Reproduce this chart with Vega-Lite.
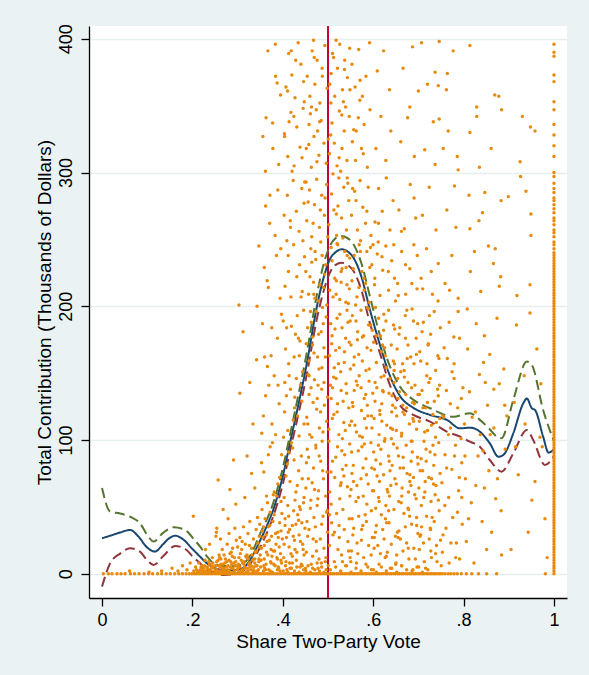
{
  "$schema": "https://vega.github.io/schema/vega-lite/v6.json",
  "width": 478,
  "height": 572,
  "autosize": {"type": "none"},
  "padding": {"left": 89, "top": 26, "right": 22, "bottom": 77},
  "background": "#EAF2F3",
  "config": {
    "font": "Liberation Sans",
    "view": {"stroke": null, "fill": "#FFFFFF"},
    "axis": {
      "domainColor": "#000000",
      "domainWidth": 1.3,
      "tickColor": "#000000",
      "tickWidth": 1.3,
      "tickSize": 8,
      "labelColor": "#000000",
      "titleColor": "#000000",
      "labelFontSize": 18,
      "titleFontSize": 19,
      "titleFontWeight": "normal",
      "labelFlush": false,
      "labelOverlap": false
    }
  },
  "datasets": {
    "obs": [
      {"x":0.003,"y":0},{"x":0.014,"y":0},{"x":0.022,"y":0},{"x":0.033,"y":0},{"x":0.042,"y":0},{"x":0.051,"y":0},{"x":0.063,"y":0},{"x":0.072,"y":0},{"x":0.082,"y":0},{"x":0.093,"y":0},{"x":0.103,"y":0},{"x":0.112,"y":0},{"x":0.123,"y":0},{"x":0.132,"y":0},{"x":0.142,"y":0},{"x":0.151,"y":0},{"x":0.161,"y":0},{"x":0.17,"y":0},{"x":0.178,"y":0},{"x":0.186,"y":0},{"x":0.193,"y":0},{"x":0.199,"y":0},
      {"x":0.204,"y":0},{"x":0.208,"y":0},{"x":0.213,"y":0},{"x":0.217,"y":0},{"x":0.222,"y":0},{"x":0.226,"y":0},{"x":0.231,"y":0},{"x":0.235,"y":0},{"x":0.24,"y":0},{"x":0.244,"y":0},{"x":0.249,"y":0},{"x":0.253,"y":0},{"x":0.258,"y":0},{"x":0.262,"y":0},{"x":0.267,"y":0},{"x":0.271,"y":0},{"x":0.276,"y":0},{"x":0.28,"y":0},{"x":0.285,"y":0},{"x":0.289,"y":0},{"x":0.294,"y":0},{"x":0.298,"y":0},{"x":0.303,"y":0},{"x":0.307,"y":0},{"x":0.312,"y":0},{"x":0.316,"y":0},{"x":0.321,"y":0},{"x":0.325,"y":0},{"x":0.33,"y":0},{"x":0.334,"y":0},{"x":0.339,"y":0},{"x":0.343,"y":0},{"x":0.348,"y":0},{"x":0.352,"y":0},{"x":0.357,"y":0},{"x":0.361,"y":0},{"x":0.366,"y":0},{"x":0.37,"y":0},{"x":0.375,"y":0},{"x":0.379,"y":0},{"x":0.384,"y":0},{"x":0.388,"y":0},{"x":0.393,"y":0},{"x":0.397,"y":0},{"x":0.402,"y":0},{"x":0.406,"y":0},{"x":0.411,"y":0},{"x":0.415,"y":0},{"x":0.42,"y":0},{"x":0.424,"y":0},{"x":0.429,"y":0},{"x":0.433,"y":0},{"x":0.438,"y":0},{"x":0.442,"y":0},{"x":0.447,"y":0},{"x":0.451,"y":0},{"x":0.456,"y":0},{"x":0.46,"y":0},{"x":0.465,"y":0},{"x":0.469,"y":0},{"x":0.474,"y":0},{"x":0.478,"y":0},{"x":0.483,"y":0},{"x":0.487,"y":0},{"x":0.492,"y":0},{"x":0.496,"y":0},{"x":0.501,"y":0},{"x":0.505,"y":0},{"x":0.51,"y":0},{"x":0.514,"y":0},{"x":0.519,"y":0},{"x":0.523,"y":0},{"x":0.528,"y":0},{"x":0.532,"y":0},{"x":0.537,"y":0},{"x":0.541,"y":0},{"x":0.546,"y":0},{"x":0.55,"y":0},{"x":0.555,"y":0},{"x":0.559,"y":0},{"x":0.564,"y":0},{"x":0.568,"y":0},{"x":0.573,"y":0},{"x":0.577,"y":0},{"x":0.582,"y":0},{"x":0.586,"y":0},{"x":0.591,"y":0},{"x":0.595,"y":0},{"x":0.6,"y":0},{"x":0.604,"y":0},{"x":0.609,"y":0},{"x":0.613,"y":0},{"x":0.618,"y":0},{"x":0.622,"y":0},{"x":0.627,"y":0},{"x":0.631,"y":0},{"x":0.636,"y":0},{"x":0.64,"y":0},{"x":0.645,"y":0},{"x":0.649,"y":0},{"x":0.654,"y":0},{"x":0.658,"y":0},{"x":0.663,"y":0},{"x":0.667,"y":0},{"x":0.672,"y":0},{"x":0.676,"y":0},{"x":0.681,"y":0},{"x":0.685,"y":0},{"x":0.69,"y":0},{"x":0.694,"y":0},{"x":0.699,"y":0},{"x":0.703,"y":0},{"x":0.708,"y":0},{"x":0.712,"y":0},{"x":0.717,"y":0},{"x":0.721,"y":0},{"x":0.726,"y":0},{"x":0.73,"y":0},{"x":0.735,"y":0},{"x":0.739,"y":0},{"x":0.744,"y":0},{"x":0.748,"y":0},{"x":0.753,"y":0},{"x":0.759,"y":0},{"x":0.766,"y":0},{"x":0.772,"y":0},{"x":0.779,"y":0},{"x":0.786,"y":0},{"x":0.795,"y":0},{"x":0.806,"y":0},{"x":0.818,"y":0},{"x":0.833,"y":0},{"x":0.851,"y":0},{"x":0.873,"y":0},{"x":0.981,"y":0},
      {"x":0.155,"y":4},{"x":0.168,"y":2},{"x":0.178,"y":6},{"x":0.132,"y":2},{"x":0.188,"y":3},{"x":0.195,"y":8},{"x":0.061,"y":2},{"x":0.104,"y":1},
      {"x":0.202,"y":43},{"x":0.252,"y":28},{"x":0.253,"y":31},{"x":0.254,"y":34},{"x":0.257,"y":70},{"x":0.283,"y":63},{"x":0.279,"y":41},{"x":0.268,"y":48},{"x":0.291,"y":85},{"x":0.296,"y":52},{"x":0.238,"y":22},{"x":0.229,"y":18},{"x":0.262,"y":26},{"x":0.294,"y":34},{"x":0.281,"y":30},
      {"x":0.203,"y":2},{"x":0.207,"y":5},{"x":0.211,"y":1},{"x":0.214,"y":8},{"x":0.218,"y":3},{"x":0.221,"y":6},{"x":0.225,"y":2},{"x":0.228,"y":10},{"x":0.232,"y":4},{"x":0.235,"y":1},{"x":0.238,"y":7},{"x":0.241,"y":3},{"x":0.244,"y":12},{"x":0.246,"y":5},{"x":0.249,"y":2},{"x":0.209,"y":3},{"x":0.223,"y":4},{"x":0.231,"y":1},{"x":0.237,"y":3},{"x":0.243,"y":6},
      {"x":0.251,"y":3},{"x":0.254,"y":9},{"x":0.256,"y":1},{"x":0.259,"y":14},{"x":0.261,"y":5},{"x":0.264,"y":2},{"x":0.266,"y":18},{"x":0.268,"y":7},{"x":0.271,"y":3},{"x":0.273,"y":11},{"x":0.275,"y":1},{"x":0.277,"y":22},{"x":0.279,"y":6},{"x":0.281,"y":2},{"x":0.283,"y":15},{"x":0.285,"y":9},{"x":0.287,"y":4},{"x":0.289,"y":19},{"x":0.291,"y":1},{"x":0.293,"y":12},{"x":0.295,"y":6},{"x":0.297,"y":25},{"x":0.299,"y":3},{"x":0.258,"y":6},{"x":0.269,"y":4},{"x":0.276,"y":9},{"x":0.284,"y":5},{"x":0.292,"y":8},{"x":0.263,"y":11},{"x":0.288,"y":13},
      {"x":0.301,"y":4},{"x":0.303,"y":12},{"x":0.305,"y":27},{"x":0.307,"y":2},{"x":0.309,"y":18},{"x":0.311,"y":8},{"x":0.313,"y":35},{"x":0.315,"y":5},{"x":0.317,"y":22},{"x":0.319,"y":1},{"x":0.321,"y":14},{"x":0.323,"y":30},{"x":0.325,"y":7},{"x":0.327,"y":39},{"x":0.329,"y":3},{"x":0.331,"y":19},{"x":0.333,"y":10},{"x":0.335,"y":26},{"x":0.337,"y":2},{"x":0.339,"y":16},{"x":0.341,"y":33},{"x":0.343,"y":6},{"x":0.345,"y":23},{"x":0.347,"y":11},{"x":0.349,"y":37},{"x":0.302,"y":7},{"x":0.306,"y":15},{"x":0.31,"y":3},{"x":0.314,"y":9},{"x":0.318,"y":13},{"x":0.322,"y":4},{"x":0.326,"y":21},{"x":0.33,"y":6},{"x":0.334,"y":1},{"x":0.338,"y":8},{"x":0.342,"y":17},{"x":0.346,"y":3},{"x":0.348,"y":20},{"x":0.324,"y":11},{"x":0.336,"y":5},
      {"x":0.351,"y":5},{"x":0.353,"y":19},{"x":0.355,"y":32},{"x":0.357,"y":2},{"x":0.359,"y":11},{"x":0.361,"y":41},{"x":0.363,"y":7},{"x":0.365,"y":24},{"x":0.367,"y":14},{"x":0.369,"y":3},{"x":0.371,"y":36},{"x":0.373,"y":9},{"x":0.375,"y":28},{"x":0.377,"y":1},{"x":0.379,"y":17},{"x":0.381,"y":44},{"x":0.383,"y":6},{"x":0.385,"y":22},{"x":0.387,"y":12},{"x":0.389,"y":31},{"x":0.391,"y":4},{"x":0.393,"y":38},{"x":0.395,"y":15},{"x":0.397,"y":8},{"x":0.399,"y":26},{"x":0.352,"y":10},{"x":0.356,"y":27},{"x":0.36,"y":4},{"x":0.364,"y":16},{"x":0.368,"y":35},{"x":0.372,"y":2},{"x":0.376,"y":13},{"x":0.38,"y":7},{"x":0.384,"y":30},{"x":0.388,"y":3},{"x":0.392,"y":20},{"x":0.396,"y":10},{"x":0.358,"y":6},{"x":0.374,"y":18},{"x":0.39,"y":5},
      {"x":0.401,"y":2},{"x":0.406,"y":6},{"x":0.411,"y":1},{"x":0.416,"y":4},{"x":0.421,"y":8},{"x":0.426,"y":2},{"x":0.431,"y":5},{"x":0.436,"y":1},{"x":0.441,"y":7},{"x":0.446,"y":3},{"x":0.451,"y":2},{"x":0.456,"y":6},{"x":0.461,"y":1},{"x":0.466,"y":4},{"x":0.471,"y":3},{"x":0.476,"y":8},{"x":0.481,"y":2},{"x":0.486,"y":5},{"x":0.491,"y":1},{"x":0.496,"y":3},
      {"x":0.505,"y":3},{"x":0.517,"y":5},{"x":0.528,"y":2},{"x":0.539,"y":6},{"x":0.551,"y":1},{"x":0.562,"y":4},{"x":0.573,"y":2},{"x":0.584,"y":7},{"x":0.596,"y":3},{"x":0.607,"y":1},{"x":0.618,"y":5},{"x":0.629,"y":2},{"x":0.641,"y":4},{"x":0.652,"y":1},{"x":0.663,"y":6},{"x":0.674,"y":3},{"x":0.686,"y":2},{"x":0.697,"y":5},{"x":0.709,"y":1},{"x":0.721,"y":3},
      {"x":0.221,"y":1},{"x":0.224,"y":4},{"x":0.227,"y":6},{"x":0.23,"y":2},{"x":0.233,"y":5},{"x":0.236,"y":9},{"x":0.239,"y":2},{"x":0.242,"y":4},{"x":0.245,"y":8},{"x":0.248,"y":1},{"x":0.251,"y":6},{"x":0.254,"y":3},{"x":0.257,"y":10},{"x":0.26,"y":2},{"x":0.263,"y":7},{"x":0.266,"y":4},{"x":0.269,"y":1},{"x":0.272,"y":8},{"x":0.275,"y":5},{"x":0.278,"y":3},{"x":0.281,"y":10},{"x":0.284,"y":1},{"x":0.287,"y":7},{"x":0.29,"y":4},{"x":0.293,"y":2},{"x":0.296,"y":9},{"x":0.299,"y":6},{"x":0.302,"y":1},{"x":0.305,"y":5},{"x":0.308,"y":10},{"x":0.311,"y":2},{"x":0.314,"y":7},{"x":0.317,"y":4},{"x":0.32,"y":12},{"x":0.323,"y":2},{"x":0.326,"y":8},{"x":0.329,"y":5},{"x":0.332,"y":14},{"x":0.335,"y":3},{"x":0.338,"y":11},{"x":0.341,"y":6},{"x":0.344,"y":2},{"x":0.347,"y":9},{"x":0.215,"y":2},{"x":0.219,"y":5},{"x":0.26,"y":12},{"x":0.27,"y":14},{"x":0.286,"y":16},{"x":0.3,"y":20},{"x":0.31,"y":24},
      {"x":0.344,"y":42},{"x":0.35,"y":14},{"x":0.354,"y":48},{"x":0.359,"y":21},{"x":0.362,"y":3},{"x":0.366,"y":53},{"x":0.37,"y":25},{"x":0.374,"y":8},{"x":0.378,"y":39},{"x":0.382,"y":17},{"x":0.386,"y":58},{"x":0.39,"y":27},{"x":0.394,"y":2},{"x":0.398,"y":45},{"x":0.403,"y":22},{"x":0.407,"y":9},{"x":0.411,"y":51},{"x":0.415,"y":33},{"x":0.419,"y":4},{"x":0.423,"y":28},{"x":0.427,"y":55},{"x":0.431,"y":16},{"x":0.435,"y":40},{"x":0.439,"y":24},{"x":0.443,"y":6},{"x":0.447,"y":57},{"x":0.449,"y":34},{"x":0.357,"y":35},{"x":0.372,"y":46},{"x":0.388,"y":11},{"x":0.405,"y":36},{"x":0.421,"y":13},{"x":0.437,"y":50},{"x":0.348,"y":28},{"x":0.363,"y":29},{"x":0.379,"y":59},{"x":0.396,"y":32},{"x":0.413,"y":43},{"x":0.429,"y":37},{"x":0.445,"y":18},
      {"x":0.303,"y":201},{"x":0.312,"y":181},{"x":0.305,"y":135},{"x":0.342,"y":160},{"x":0.343,"y":200},{"x":0.321,"y":88},{"x":0.334,"y":112},{"x":0.338,"y":64},{"x":0.316,"y":57},{"x":0.327,"y":143},{"x":0.347,"y":245},{"x":0.331,"y":75},
      {"x":0.364,"y":58},{"x":0.353,"y":83},{"x":0.389,"y":67},{"x":0.372,"y":95},{"x":0.396,"y":54},{"x":0.358,"y":76},{"x":0.381,"y":61},{"x":0.368,"y":89},{"x":0.393,"y":72},{"x":0.377,"y":98},
      {"x":0.357,"y":118},{"x":0.384,"y":104},{"x":0.369,"y":141},{"x":0.392,"y":127},{"x":0.362,"y":133},{"x":0.376,"y":112},
      {"x":0.374,"y":163},{"x":0.355,"y":187},{"x":0.388,"y":176},{"x":0.366,"y":155},{"x":0.397,"y":194},{"x":0.381,"y":148},
      {"x":0.368,"y":214},{"x":0.386,"y":238},{"x":0.359,"y":229},{"x":0.394,"y":206},
      {"x":0.371,"y":262},{"x":0.389,"y":287},{"x":0.362,"y":275},{"x":0.383,"y":253},
      {"x":0.378,"y":318},{"x":0.363,"y":341},{"x":0.391,"y":306},{"x":0.356,"y":327},
      {"x":0.384,"y":372},{"x":0.367,"y":391},{"x":0.395,"y":358},
      {"x":0.3535,"y":105},{"x":0.3595,"y":162},{"x":0.3655,"y":219},{"x":0.3715,"y":283},{"x":0.3775,"y":337},{"x":0.3835,"y":396},{"x":0.3895,"y":141},{"x":0.3955,"y":243},{"x":0.3615,"y":301},{"x":0.3755,"y":184},{"x":0.3875,"y":367},{"x":0.3975,"y":89},
      {"x":0.402,"y":12},{"x":0.408,"y":27},{"x":0.415,"y":8},{"x":0.421,"y":36},{"x":0.427,"y":18},{"x":0.433,"y":44},{"x":0.438,"y":5},{"x":0.444,"y":22},{"x":0.405,"y":41},{"x":0.412,"y":31},{"x":0.418,"y":15},{"x":0.424,"y":47},{"x":0.43,"y":10},{"x":0.436,"y":29},{"x":0.442,"y":38},{"x":0.447,"y":14},{"x":0.409,"y":3},{"x":0.426,"y":25},{"x":0.439,"y":48},{"x":0.414,"y":20},
      {"x":0.403,"y":57},{"x":0.41,"y":82},{"x":0.416,"y":69},{"x":0.422,"y":94},{"x":0.429,"y":61},{"x":0.435,"y":77},{"x":0.441,"y":88},{"x":0.446,"y":53},{"x":0.407,"y":73},{"x":0.419,"y":98},{"x":0.425,"y":85},{"x":0.432,"y":66},{"x":0.443,"y":71},{"x":0.413,"y":91},
      {"x":0.404,"y":121},{"x":0.411,"y":107},{"x":0.417,"y":138},{"x":0.423,"y":115},{"x":0.43,"y":146},{"x":0.436,"y":103},{"x":0.442,"y":129},{"x":0.447,"y":112},{"x":0.408,"y":133},{"x":0.426,"y":124},{"x":0.439,"y":141},{"x":0.414,"y":148},
      {"x":0.406,"y":168},{"x":0.413,"y":157},{"x":0.419,"y":185},{"x":0.425,"y":162},{"x":0.432,"y":193},{"x":0.438,"y":174},{"x":0.444,"y":151},{"x":0.401,"y":189},{"x":0.428,"y":179},{"x":0.446,"y":197},
      {"x":0.405,"y":215},{"x":0.412,"y":238},{"x":0.418,"y":207},{"x":0.424,"y":246},{"x":0.431,"y":222},{"x":0.437,"y":231},{"x":0.443,"y":211},{"x":0.409,"y":249},{"x":0.448,"y":237},
      {"x":0.403,"y":268},{"x":0.41,"y":283},{"x":0.417,"y":259},{"x":0.423,"y":294},{"x":0.43,"y":271},{"x":0.436,"y":256},{"x":0.442,"y":288},{"x":0.447,"y":277},
      {"x":0.404,"y":327},{"x":0.411,"y":312},{"x":0.418,"y":345},{"x":0.425,"y":305},{"x":0.431,"y":334},{"x":0.438,"y":319},{"x":0.445,"y":348},{"x":0.414,"y":338},
      {"x":0.407,"y":364},{"x":0.413,"y":389},{"x":0.42,"y":373},{"x":0.427,"y":356},{"x":0.434,"y":397},{"x":0.44,"y":381},{"x":0.446,"y":368},
      {"x":0.4015,"y":102},{"x":0.4045,"y":143},{"x":0.4085,"y":184},{"x":0.4125,"y":226},{"x":0.4165,"y":264},{"x":0.4205,"y":301},{"x":0.4245,"y":342},{"x":0.4285,"y":384},{"x":0.4325,"y":118},{"x":0.4365,"y":163},{"x":0.4405,"y":207},{"x":0.4445,"y":249},{"x":0.4485,"y":293},{"x":0.4035,"y":329},{"x":0.4105,"y":361},{"x":0.4185,"y":391},{"x":0.4265,"y":132},{"x":0.4345,"y":176},{"x":0.4425,"y":311},{"x":0.4475,"y":353},
      {"x":0.452,"y":16},{"x":0.458,"y":33},{"x":0.463,"y":7},{"x":0.469,"y":42},{"x":0.474,"y":24},{"x":0.48,"y":11},{"x":0.486,"y":37},{"x":0.491,"y":19},{"x":0.497,"y":46},{"x":0.455,"y":28},{"x":0.461,"y":49},{"x":0.466,"y":13},{"x":0.472,"y":35},{"x":0.478,"y":4},{"x":0.483,"y":26},{"x":0.489,"y":43},{"x":0.494,"y":9},{"x":0.499,"y":31},
      {"x":0.451,"y":64},{"x":0.457,"y":87},{"x":0.462,"y":55},{"x":0.468,"y":79},{"x":0.473,"y":96},{"x":0.479,"y":62},{"x":0.484,"y":84},{"x":0.49,"y":71},{"x":0.495,"y":58},{"x":0.454,"y":93},{"x":0.465,"y":68},{"x":0.476,"y":51},{"x":0.487,"y":99},{"x":0.498,"y":76},
      {"x":0.453,"y":117},{"x":0.458,"y":134},{"x":0.464,"y":102},{"x":0.47,"y":145},{"x":0.475,"y":123},{"x":0.481,"y":109},{"x":0.486,"y":138},{"x":0.492,"y":126},{"x":0.497,"y":114},{"x":0.456,"y":149},{"x":0.467,"y":128},{"x":0.478,"y":141},{"x":0.489,"y":106},{"x":0.499,"y":132},
      {"x":0.452,"y":172},{"x":0.458,"y":159},{"x":0.463,"y":188},{"x":0.469,"y":165},{"x":0.474,"y":196},{"x":0.48,"y":153},{"x":0.485,"y":181},{"x":0.491,"y":169},{"x":0.496,"y":192},{"x":0.455,"y":184},{"x":0.466,"y":177},{"x":0.477,"y":162},{"x":0.488,"y":199},
      {"x":0.451,"y":226},{"x":0.457,"y":209},{"x":0.462,"y":243},{"x":0.468,"y":218},{"x":0.473,"y":235},{"x":0.479,"y":204},{"x":0.484,"y":248},{"x":0.49,"y":214},{"x":0.495,"y":231},{"x":0.46,"y":222},{"x":0.471,"y":206},{"x":0.487,"y":238},
      {"x":0.453,"y":264},{"x":0.459,"y":287},{"x":0.464,"y":252},{"x":0.47,"y":276},{"x":0.475,"y":295},{"x":0.481,"y":259},{"x":0.486,"y":283},{"x":0.492,"y":268},{"x":0.497,"y":291},{"x":0.456,"y":278},{"x":0.467,"y":262},{"x":0.483,"y":272},
      {"x":0.452,"y":318},{"x":0.458,"y":336},{"x":0.463,"y":304},{"x":0.469,"y":327},{"x":0.474,"y":347},{"x":0.48,"y":313},{"x":0.485,"y":339},{"x":0.491,"y":322},{"x":0.496,"y":307},{"x":0.461,"y":344},{"x":0.477,"y":331},
      {"x":0.454,"y":372},{"x":0.46,"y":357},{"x":0.465,"y":391},{"x":0.471,"y":366},{"x":0.476,"y":384},{"x":0.482,"y":352},{"x":0.487,"y":378},{"x":0.493,"y":395},{"x":0.498,"y":363},{"x":0.468,"y":399},
      {"x":0.4505,"y":4},{"x":0.4535,"y":39},{"x":0.4565,"y":71},{"x":0.4595,"y":104},{"x":0.4625,"y":139},{"x":0.4655,"y":171},{"x":0.4685,"y":209},{"x":0.4715,"y":241},{"x":0.4745,"y":17},{"x":0.4775,"y":56},{"x":0.4805,"y":88},{"x":0.4835,"y":121},{"x":0.4865,"y":154},{"x":0.4895,"y":187},{"x":0.4925,"y":224},{"x":0.4955,"y":12},{"x":0.4985,"y":47},{"x":0.4522,"y":83},{"x":0.4552,"y":112},{"x":0.4582,"y":148},{"x":0.4612,"y":196},{"x":0.4642,"y":233},{"x":0.4672,"y":26},{"x":0.4702,"y":63},{"x":0.4732,"y":94},{"x":0.4762,"y":131},{"x":0.4792,"y":179},{"x":0.4822,"y":216},{"x":0.4852,"y":8},{"x":0.4882,"y":77},{"x":0.4912,"y":143},{"x":0.4942,"y":162},{"x":0.4972,"y":201},{"x":0.4995,"y":252},
      {"x":0.4515,"y":293},{"x":0.4575,"y":321},{"x":0.4635,"y":349},{"x":0.4695,"y":386},{"x":0.4755,"y":308},{"x":0.4815,"y":338},{"x":0.4875,"y":372},{"x":0.4935,"y":281},{"x":0.5005,"y":325},{"x":0.5065,"y":352},{"x":0.5125,"y":386},{"x":0.5185,"y":269},{"x":0.5245,"y":311},{"x":0.5305,"y":343},{"x":0.5365,"y":377},{"x":0.5425,"y":296},{"x":0.5485,"y":362},{"x":0.5545,"y":288},{"x":0.5625,"y":331},{"x":0.5705,"y":354},
      {"x":0.503,"y":21},{"x":0.508,"y":38},{"x":0.514,"y":9},{"x":0.519,"y":45},{"x":0.525,"y":27},{"x":0.53,"y":14},{"x":0.536,"y":33},{"x":0.541,"y":6},{"x":0.547,"y":41},{"x":0.511,"y":29},{"x":0.522,"y":18},{"x":0.533,"y":48},{"x":0.544,"y":24},{"x":0.549,"y":12},
      {"x":0.504,"y":61},{"x":0.51,"y":84},{"x":0.515,"y":72},{"x":0.521,"y":95},{"x":0.526,"y":56},{"x":0.532,"y":78},{"x":0.537,"y":89},{"x":0.543,"y":65},{"x":0.548,"y":97},{"x":0.507,"y":52},{"x":0.529,"y":68},{"x":0.54,"y":81},
      {"x":0.502,"y":108},{"x":0.507,"y":131},{"x":0.513,"y":119},{"x":0.518,"y":146},{"x":0.524,"y":104},{"x":0.529,"y":137},{"x":0.535,"y":113},{"x":0.54,"y":142},{"x":0.546,"y":124},{"x":0.51,"y":139},{"x":0.521,"y":127},{"x":0.532,"y":101},{"x":0.548,"y":111},
      {"x":0.503,"y":163},{"x":0.509,"y":178},{"x":0.514,"y":154},{"x":0.52,"y":191},{"x":0.525,"y":169},{"x":0.531,"y":184},{"x":0.536,"y":158},{"x":0.542,"y":197},{"x":0.547,"y":173},{"x":0.506,"y":187},{"x":0.517,"y":167},{"x":0.528,"y":151},{"x":0.539,"y":176},{"x":0.549,"y":189},
      {"x":0.504,"y":212},{"x":0.509,"y":234},{"x":0.515,"y":221},{"x":0.52,"y":247},{"x":0.526,"y":205},{"x":0.531,"y":228},{"x":0.537,"y":241},{"x":0.542,"y":216},{"x":0.548,"y":236},{"x":0.507,"y":244},{"x":0.518,"y":209},{"x":0.529,"y":218},{"x":0.54,"y":229},{"x":0.545,"y":202},
      {"x":0.502,"y":261},{"x":0.508,"y":284},{"x":0.513,"y":272},{"x":0.519,"y":253},{"x":0.524,"y":296},{"x":0.53,"y":266},{"x":0.535,"y":289},{"x":0.541,"y":257},{"x":0.546,"y":279},{"x":0.511,"y":299},{"x":0.522,"y":275},{"x":0.533,"y":251},{"x":0.544,"y":292},
      {"x":0.503,"y":314},{"x":0.509,"y":337},{"x":0.514,"y":322},{"x":0.52,"y":305},{"x":0.525,"y":346},{"x":0.531,"y":318},{"x":0.536,"y":331},{"x":0.542,"y":309},{"x":0.547,"y":342},{"x":0.506,"y":328},{"x":0.528,"y":301},{"x":0.539,"y":349},
      {"x":0.504,"y":366},{"x":0.51,"y":389},{"x":0.515,"y":357},{"x":0.521,"y":378},{"x":0.526,"y":396},{"x":0.532,"y":362},{"x":0.537,"y":384},{"x":0.543,"y":371},{"x":0.548,"y":393},{"x":0.507,"y":374},{"x":0.518,"y":399},{"x":0.534,"y":353},
      {"x":0.5005,"y":6},{"x":0.5035,"y":44},{"x":0.5065,"y":76},{"x":0.5095,"y":116},{"x":0.5125,"y":147},{"x":0.5155,"y":183},{"x":0.5185,"y":219},{"x":0.5215,"y":246},{"x":0.5245,"y":36},{"x":0.5275,"y":66},{"x":0.5305,"y":92},{"x":0.5335,"y":129},{"x":0.5365,"y":166},{"x":0.5395,"y":203},{"x":0.5425,"y":238},{"x":0.5455,"y":17},{"x":0.5485,"y":58},{"x":0.5022,"y":99},{"x":0.5052,"y":141},{"x":0.5082,"y":172},{"x":0.5112,"y":207},{"x":0.5142,"y":31},{"x":0.5172,"y":87},{"x":0.5202,"y":121},{"x":0.5232,"y":157},{"x":0.5262,"y":194},{"x":0.5292,"y":226},{"x":0.5322,"y":9},{"x":0.5352,"y":73},{"x":0.5382,"y":107},{"x":0.5412,"y":135},{"x":0.5442,"y":188},{"x":0.5472,"y":213},{"x":0.5495,"y":153},
      {"x":0.552,"y":17},{"x":0.557,"y":34},{"x":0.563,"y":8},{"x":0.568,"y":43},{"x":0.574,"y":25},{"x":0.579,"y":12},{"x":0.585,"y":39},{"x":0.59,"y":21},{"x":0.596,"y":47},{"x":0.555,"y":29},{"x":0.566,"y":15},{"x":0.577,"y":36},{"x":0.588,"y":5},{"x":0.598,"y":27},
      {"x":0.551,"y":63},{"x":0.556,"y":81},{"x":0.562,"y":54},{"x":0.567,"y":92},{"x":0.573,"y":71},{"x":0.578,"y":58},{"x":0.584,"y":86},{"x":0.589,"y":67},{"x":0.595,"y":98},{"x":0.553,"y":75},{"x":0.564,"y":66},{"x":0.575,"y":95},{"x":0.586,"y":52},{"x":0.597,"y":79},
      {"x":0.552,"y":114},{"x":0.558,"y":137},{"x":0.563,"y":106},{"x":0.569,"y":148},{"x":0.574,"y":122},{"x":0.58,"y":131},{"x":0.585,"y":109},{"x":0.591,"y":144},{"x":0.596,"y":118},{"x":0.554,"y":128},{"x":0.565,"y":141},{"x":0.576,"y":102},{"x":0.581,"y":116},{"x":0.587,"y":126},{"x":0.599,"y":135},
      {"x":0.551,"y":171},{"x":0.557,"y":156},{"x":0.562,"y":189},{"x":0.568,"y":164},{"x":0.573,"y":197},{"x":0.579,"y":178},{"x":0.584,"y":152},{"x":0.59,"y":186},{"x":0.595,"y":167},{"x":0.554,"y":193},{"x":0.565,"y":175},{"x":0.576,"y":159},{"x":0.587,"y":199},{"x":0.598,"y":182},
      {"x":0.553,"y":219},{"x":0.558,"y":238},{"x":0.564,"y":207},{"x":0.569,"y":246},{"x":0.575,"y":226},{"x":0.58,"y":212},{"x":0.586,"y":241},{"x":0.591,"y":203},{"x":0.597,"y":231},{"x":0.556,"y":228},{"x":0.572,"y":249},{"x":0.583,"y":217},{"x":0.594,"y":244},
      {"x":0.552,"y":268},{"x":0.559,"y":286},{"x":0.565,"y":257},{"x":0.571,"y":294},{"x":0.577,"y":274},{"x":0.583,"y":262},{"x":0.589,"y":289},{"x":0.595,"y":253},{"x":0.562,"y":279},{"x":0.586,"y":271},
      {"x":0.554,"y":323},{"x":0.561,"y":309},{"x":0.567,"y":341},{"x":0.574,"y":318},{"x":0.58,"y":336},{"x":0.587,"y":304},{"x":0.593,"y":347},{"x":0.557,"y":332},{"x":0.578,"y":314},
      {"x":0.553,"y":381},{"x":0.56,"y":364},{"x":0.568,"y":392},{"x":0.576,"y":357},{"x":0.584,"y":372},{"x":0.592,"y":397},{"x":0.571,"y":369},
      {"x":0.5505,"y":9},{"x":0.5535,"y":41},{"x":0.5565,"y":69},{"x":0.5595,"y":111},{"x":0.5625,"y":144},{"x":0.5655,"y":181},{"x":0.5685,"y":214},{"x":0.5715,"y":241},{"x":0.5745,"y":33},{"x":0.5775,"y":79},{"x":0.5805,"y":97},{"x":0.5835,"y":134},{"x":0.5865,"y":169},{"x":0.5895,"y":198},{"x":0.5925,"y":229},{"x":0.5955,"y":14},{"x":0.5985,"y":62},{"x":0.5522,"y":91},{"x":0.5552,"y":125},{"x":0.5582,"y":162},{"x":0.5612,"y":201},{"x":0.5642,"y":23},{"x":0.5672,"y":57},{"x":0.5702,"y":103},{"x":0.5732,"y":139},{"x":0.5762,"y":177},{"x":0.5792,"y":221},{"x":0.5822,"y":44},{"x":0.5852,"y":74},{"x":0.5882,"y":118},{"x":0.5912,"y":153},{"x":0.5942,"y":186},{"x":0.5972,"y":109},{"x":0.5995,"y":246},
      {"x":0.602,"y":19},{"x":0.607,"y":36},{"x":0.613,"y":7},{"x":0.618,"y":44},{"x":0.624,"y":26},{"x":0.629,"y":13},{"x":0.635,"y":38},{"x":0.64,"y":22},{"x":0.646,"y":48},{"x":0.605,"y":31},{"x":0.616,"y":15},{"x":0.627,"y":41},{"x":0.638,"y":4},{"x":0.649,"y":28},{"x":0.621,"y":33},
      {"x":0.601,"y":62},{"x":0.606,"y":85},{"x":0.612,"y":57},{"x":0.617,"y":93},{"x":0.623,"y":74},{"x":0.628,"y":51},{"x":0.634,"y":88},{"x":0.639,"y":66},{"x":0.645,"y":97},{"x":0.603,"y":78},{"x":0.614,"y":69},{"x":0.625,"y":99},{"x":0.636,"y":58},{"x":0.642,"y":81},{"x":0.648,"y":71},{"x":0.631,"y":63},
      {"x":0.602,"y":116},{"x":0.608,"y":139},{"x":0.613,"y":104},{"x":0.619,"y":127},{"x":0.624,"y":148},{"x":0.63,"y":111},{"x":0.635,"y":135},{"x":0.641,"y":121},{"x":0.646,"y":143},{"x":0.604,"y":129},{"x":0.615,"y":119},{"x":0.626,"y":101},{"x":0.637,"y":146},{"x":0.643,"y":108},{"x":0.649,"y":124},{"x":0.621,"y":137},
      {"x":0.601,"y":173},{"x":0.607,"y":158},{"x":0.612,"y":191},{"x":0.618,"y":166},{"x":0.623,"y":182},{"x":0.629,"y":154},{"x":0.634,"y":197},{"x":0.64,"y":171},{"x":0.645,"y":186},{"x":0.605,"y":199},{"x":0.616,"y":178},{"x":0.627,"y":163},{"x":0.647,"y":157},
      {"x":0.603,"y":216},{"x":0.609,"y":239},{"x":0.615,"y":208},{"x":0.621,"y":227},{"x":0.628,"y":245},{"x":0.634,"y":212},{"x":0.641,"y":234},{"x":0.647,"y":221},{"x":0.611,"y":248},
      {"x":0.604,"y":263},{"x":0.612,"y":288},{"x":0.62,"y":271},{"x":0.629,"y":296},{"x":0.637,"y":257},{"x":0.644,"y":279},
      {"x":0.606,"y":318},{"x":0.617,"y":342},{"x":0.628,"y":309},{"x":0.639,"y":331},
      {"x":0.609,"y":376},{"x":0.623,"y":391},{"x":0.636,"y":362},
      {"x":0.6005,"y":3},{"x":0.6025,"y":27},{"x":0.6055,"y":49},{"x":0.6085,"y":73},{"x":0.6115,"y":96},{"x":0.6145,"y":122},{"x":0.6175,"y":147},{"x":0.6205,"y":171},{"x":0.6235,"y":194},{"x":0.6265,"y":12},{"x":0.6295,"y":38},{"x":0.6325,"y":61},{"x":0.6355,"y":84},{"x":0.6385,"y":109},{"x":0.6415,"y":133},{"x":0.6445,"y":159},{"x":0.6475,"y":183},{"x":0.6495,"y":7},{"x":0.6012,"y":91},{"x":0.6042,"y":143},{"x":0.6072,"y":178},{"x":0.6102,"y":21},{"x":0.6132,"y":54},{"x":0.6162,"y":82},{"x":0.6192,"y":114},{"x":0.6222,"y":136},{"x":0.6252,"y":169},{"x":0.6282,"y":189},{"x":0.6312,"y":16},{"x":0.6342,"y":47},{"x":0.6372,"y":77},{"x":0.6402,"y":101},{"x":0.6432,"y":126},{"x":0.6462,"y":152},{"x":0.6492,"y":204},{"x":0.6035,"y":221},{"x":0.6195,"y":237},{"x":0.6335,"y":226},{"x":0.6455,"y":246},{"x":0.6115,"y":262},
      {"x":0.652,"y":14},{"x":0.657,"y":32},{"x":0.663,"y":6},{"x":0.668,"y":45},{"x":0.674,"y":23},{"x":0.679,"y":11},{"x":0.685,"y":37},{"x":0.69,"y":19},{"x":0.696,"y":42},{"x":0.655,"y":27},{"x":0.666,"y":17},{"x":0.677,"y":49},{"x":0.688,"y":3},{"x":0.699,"y":30},{"x":0.671,"y":35},
      {"x":0.651,"y":67},{"x":0.656,"y":88},{"x":0.662,"y":53},{"x":0.667,"y":79},{"x":0.673,"y":96},{"x":0.678,"y":61},{"x":0.684,"y":84},{"x":0.689,"y":72},{"x":0.695,"y":56},{"x":0.653,"y":94},{"x":0.664,"y":64},{"x":0.675,"y":75},{"x":0.686,"y":99},{"x":0.692,"y":59},{"x":0.698,"y":87},{"x":0.681,"y":69},
      {"x":0.652,"y":118},{"x":0.658,"y":136},{"x":0.663,"y":105},{"x":0.669,"y":147},{"x":0.674,"y":124},{"x":0.68,"y":112},{"x":0.685,"y":139},{"x":0.691,"y":127},{"x":0.696,"y":108},{"x":0.655,"y":131},{"x":0.666,"y":121},{"x":0.677,"y":143},{"x":0.688,"y":116},{"x":0.699,"y":134},
      {"x":0.653,"y":168},{"x":0.659,"y":184},{"x":0.665,"y":157},{"x":0.671,"y":193},{"x":0.677,"y":171},{"x":0.683,"y":162},{"x":0.689,"y":189},{"x":0.695,"y":176},{"x":0.661,"y":151},{"x":0.686,"y":198},
      {"x":0.654,"y":217},{"x":0.663,"y":241},{"x":0.672,"y":209},{"x":0.681,"y":228},{"x":0.69,"y":246},{"x":0.697,"y":213},
      {"x":0.657,"y":272},{"x":0.669,"y":258},{"x":0.682,"y":291},{"x":0.694,"y":266},
      {"x":0.661,"y":323},{"x":0.676,"y":341},{"x":0.691,"y":312},
      {"x":0.666,"y":378},{"x":0.687,"y":394},
      {"x":0.6505,"y":8},{"x":0.6535,"y":31},{"x":0.6565,"y":54},{"x":0.6595,"y":79},{"x":0.6625,"y":103},{"x":0.6655,"y":126},{"x":0.6685,"y":152},{"x":0.6715,"y":176},{"x":0.6745,"y":197},{"x":0.6775,"y":19},{"x":0.6805,"y":43},{"x":0.6835,"y":66},{"x":0.6865,"y":91},{"x":0.6895,"y":114},{"x":0.6925,"y":141},{"x":0.6955,"y":164},{"x":0.6985,"y":187},{"x":0.6512,"y":107},{"x":0.6542,"y":146},{"x":0.6572,"y":179},{"x":0.6602,"y":26},{"x":0.6632,"y":58},{"x":0.6662,"y":87},{"x":0.6692,"y":119},{"x":0.6722,"y":134},{"x":0.6752,"y":161},{"x":0.6782,"y":48},{"x":0.6812,"y":74},{"x":0.6842,"y":99},{"x":0.6872,"y":128},{"x":0.6902,"y":157},{"x":0.6932,"y":11},{"x":0.6962,"y":36},{"x":0.6992,"y":82},{"x":0.6555,"y":208},{"x":0.6715,"y":231},{"x":0.6855,"y":217},{"x":0.6975,"y":238},{"x":0.6625,"y":256},{"x":0.6905,"y":281},
      {"x":0.702,"y":18},{"x":0.707,"y":35},{"x":0.713,"y":9},{"x":0.718,"y":43},{"x":0.724,"y":26},{"x":0.729,"y":12},{"x":0.735,"y":39},{"x":0.74,"y":21},{"x":0.746,"y":47},{"x":0.705,"y":29},{"x":0.716,"y":4},{"x":0.727,"y":33},{"x":0.738,"y":15},{"x":0.749,"y":25},
      {"x":0.701,"y":64},{"x":0.706,"y":86},{"x":0.712,"y":57},{"x":0.717,"y":93},{"x":0.723,"y":72},{"x":0.728,"y":54},{"x":0.734,"y":81},{"x":0.739,"y":66},{"x":0.745,"y":98},{"x":0.704,"y":77},{"x":0.715,"y":69},{"x":0.726,"y":91},{"x":0.737,"y":59},{"x":0.748,"y":75},
      {"x":0.702,"y":114},{"x":0.708,"y":137},{"x":0.714,"y":106},{"x":0.72,"y":128},{"x":0.726,"y":146},{"x":0.732,"y":119},{"x":0.738,"y":102},{"x":0.744,"y":133},{"x":0.71,"y":124},{"x":0.729,"y":111},{"x":0.747,"y":141},
      {"x":0.703,"y":166},{"x":0.711,"y":188},{"x":0.719,"y":157},{"x":0.727,"y":179},{"x":0.735,"y":196},{"x":0.743,"y":163},{"x":0.722,"y":172},
      {"x":0.706,"y":221},{"x":0.718,"y":243},{"x":0.731,"y":209},{"x":0.744,"y":232},
      {"x":0.709,"y":268},{"x":0.724,"y":289},{"x":0.739,"y":257},
      {"x":0.714,"y":317},{"x":0.733,"y":338},{"x":0.72,"y":366},
      {"x":0.7005,"y":5},{"x":0.7035,"y":28},{"x":0.7065,"y":51},{"x":0.7095,"y":77},{"x":0.7125,"y":99},{"x":0.7155,"y":124},{"x":0.7185,"y":148},{"x":0.7215,"y":171},{"x":0.7245,"y":193},{"x":0.7275,"y":17},{"x":0.7305,"y":42},{"x":0.7335,"y":67},{"x":0.7365,"y":89},{"x":0.7395,"y":113},{"x":0.7425,"y":138},{"x":0.7455,"y":161},{"x":0.7485,"y":184},{"x":0.7022,"y":134},{"x":0.7052,"y":159},{"x":0.7082,"y":181},{"x":0.7112,"y":23},{"x":0.7142,"y":61},{"x":0.7172,"y":84},{"x":0.7202,"y":107},{"x":0.7232,"y":143},{"x":0.7262,"y":34},{"x":0.7292,"y":71},{"x":0.7322,"y":96},{"x":0.7352,"y":129},{"x":0.7382,"y":152},{"x":0.7412,"y":9},{"x":0.7442,"y":55},{"x":0.7472,"y":116},{"x":0.7095,"y":213},{"x":0.7285,"y":226},{"x":0.7435,"y":204},
      {"x":0.753,"y":16},{"x":0.761,"y":34},{"x":0.768,"y":8},{"x":0.776,"y":42},{"x":0.784,"y":23},{"x":0.791,"y":11},{"x":0.797,"y":37},
      {"x":0.752,"y":68},{"x":0.759,"y":89},{"x":0.767,"y":57},{"x":0.774,"y":78},{"x":0.782,"y":96},{"x":0.789,"y":62},{"x":0.796,"y":83},
      {"x":0.754,"y":118},{"x":0.762,"y":137},{"x":0.771,"y":109},{"x":0.779,"y":146},{"x":0.787,"y":124},{"x":0.795,"y":131},
      {"x":0.757,"y":169},{"x":0.768,"y":188},{"x":0.779,"y":157},{"x":0.791,"y":176},
      {"x":0.759,"y":217},{"x":0.774,"y":238},{"x":0.788,"y":206},
      {"x":0.763,"y":272},{"x":0.783,"y":259},{"x":0.766,"y":331},{"x":0.786,"y":312},{"x":0.777,"y":391},
      {"x":0.7505,"y":6},{"x":0.7545,"y":29},{"x":0.7585,"y":51},{"x":0.7625,"y":79},{"x":0.7665,"y":104},{"x":0.7705,"y":127},{"x":0.7745,"y":151},{"x":0.7785,"y":177},{"x":0.7825,"y":12},{"x":0.7865,"y":46},{"x":0.7905,"y":72},{"x":0.7945,"y":101},{"x":0.7985,"y":139},{"x":0.756,"y":117},{"x":0.764,"y":161},{"x":0.772,"y":23},{"x":0.78,"y":88},{"x":0.788,"y":196},{"x":0.796,"y":57},{"x":0.769,"y":212},
      {"x":0.806,"y":24},{"x":0.823,"y":8},{"x":0.841,"y":39},
      {"x":0.804,"y":71},{"x":0.817,"y":53},{"x":0.832,"y":88},{"x":0.846,"y":64},
      {"x":0.802,"y":112},{"x":0.813,"y":136},{"x":0.826,"y":121},{"x":0.837,"y":104},{"x":0.848,"y":143},
      {"x":0.809,"y":168},{"x":0.828,"y":187},{"x":0.844,"y":158},
      {"x":0.815,"y":226},{"x":0.838,"y":211},{"x":0.812,"y":283},{"x":0.834,"y":264},{"x":0.829,"y":342},
      {"x":0.803,"y":88},{"x":0.811,"y":41},{"x":0.819,"y":117},{"x":0.827,"y":66},{"x":0.835,"y":149},{"x":0.843,"y":92},{"x":0.851,"y":18},{"x":0.859,"y":104},{"x":0.867,"y":138},{"x":0.875,"y":71},{"x":0.883,"y":47},{"x":0.891,"y":126},{"x":0.808,"y":198},{"x":0.824,"y":241},{"x":0.846,"y":178},
      {"x":0.862,"y":31},{"x":0.884,"y":14},
      {"x":0.856,"y":77},{"x":0.871,"y":56},{"x":0.892,"y":93},
      {"x":0.853,"y":126},{"x":0.867,"y":109},{"x":0.879,"y":142},{"x":0.896,"y":118},
      {"x":0.858,"y":164},{"x":0.874,"y":191},{"x":0.889,"y":153},
      {"x":0.866,"y":232},{"x":0.883,"y":279},{"x":0.861,"y":318},{"x":0.878,"y":357},
      {"x":0.925,"y":308},{"x":0.938,"y":286},{"x":0.949,"y":269},{"x":0.947,"y":216},{"x":0.918,"y":208},{"x":0.926,"y":297},{"x":0.949,"y":253},{"x":0.947,"y":195},{"x":0.917,"y":186},{"x":0.969,"y":102},{"x":0.974,"y":95},{"x":0.958,"y":69},{"x":0.951,"y":55},{"x":0.98,"y":41},{"x":0.958,"y":331},{"x":0.93,"y":342},{"x":0.948,"y":334},{"x":0.912,"y":128},{"x":0.934,"y":148},{"x":0.921,"y":74},{"x":0.943,"y":31},{"x":0.905,"y":18},{"x":0.962,"y":168},{"x":0.936,"y":112},{"x":0.971,"y":142},{"x":0.915,"y":95},{"x":0.985,"y":12},
      {"x":0.746,"y":398},{"x":0.707,"y":397},{"x":0.737,"y":375},{"x":0.764,"y":374},{"x":0.744,"y":365},{"x":0.762,"y":362},{"x":0.7,"y":361},{"x":0.681,"y":349},{"x":0.746,"y":340},{"x":0.755,"y":318},{"x":0.737,"y":306},{"x":0.788,"y":302},{"x":0.78,"y":290},{"x":0.847,"y":285},{"x":0.842,"y":270},{"x":0.814,"y":258},{"x":0.855,"y":245},{"x":0.882,"y":222},{"x":0.814,"y":395},{"x":0.869,"y":358},{"x":0.884,"y":347},{"x":0.829,"y":349},{"x":0.814,"y":330},{"x":0.835,"y":304},{"x":0.899,"y":282},{"x":0.87,"y":243},{"x":0.879,"y":215},
      {"x":1,"y":0},{"x":1,"y":2},{"x":1,"y":4},{"x":1,"y":6},{"x":1,"y":8},{"x":1,"y":10},{"x":1,"y":12},{"x":1,"y":14},{"x":1,"y":16},{"x":1,"y":18},{"x":1,"y":20},{"x":1,"y":22},{"x":1,"y":24},{"x":1,"y":26},{"x":1,"y":28},{"x":1,"y":30},{"x":1,"y":32},{"x":1,"y":34},{"x":1,"y":36},{"x":1,"y":38},{"x":1,"y":40},{"x":1,"y":42},{"x":1,"y":44},{"x":1,"y":46},{"x":1,"y":48},{"x":1,"y":50},{"x":1,"y":52},{"x":1,"y":54},{"x":1,"y":56},{"x":1,"y":58},{"x":1,"y":60},{"x":1,"y":62},{"x":1,"y":64},{"x":1,"y":66},{"x":1,"y":68},{"x":1,"y":70},{"x":1,"y":72},{"x":1,"y":74},{"x":1,"y":76},{"x":1,"y":78},{"x":1,"y":80},{"x":1,"y":82},{"x":1,"y":84},{"x":1,"y":86},{"x":1,"y":88},{"x":1,"y":90},{"x":1,"y":92},{"x":1,"y":94},{"x":1,"y":96},{"x":1,"y":98},{"x":1,"y":100},{"x":1,"y":102},{"x":1,"y":104},{"x":1,"y":106},{"x":1,"y":108},{"x":1,"y":110},{"x":1,"y":112},{"x":1,"y":114},{"x":1,"y":116},{"x":1,"y":118},{"x":1,"y":120},{"x":1,"y":122},{"x":1,"y":124},{"x":1,"y":126},{"x":1,"y":128},{"x":1,"y":130},{"x":1,"y":132},{"x":1,"y":134},{"x":1,"y":136},{"x":1,"y":138},{"x":1,"y":140},{"x":1,"y":142},{"x":1,"y":144},{"x":1,"y":146},{"x":1,"y":148},{"x":1,"y":150},{"x":1,"y":152},{"x":1,"y":154},{"x":1,"y":156},{"x":1,"y":158},{"x":1,"y":160},{"x":1,"y":162},{"x":1,"y":164},{"x":1,"y":166},{"x":1,"y":168},{"x":1,"y":170},{"x":1,"y":172},{"x":1,"y":174},{"x":1,"y":176},{"x":1,"y":178},{"x":1,"y":180},{"x":1,"y":182},{"x":1,"y":184},{"x":1,"y":186},{"x":1,"y":188},{"x":1,"y":190},{"x":1,"y":192},{"x":1,"y":194},{"x":1,"y":196},{"x":1,"y":198},{"x":1,"y":200},{"x":1,"y":202},{"x":1,"y":204},{"x":1,"y":206},{"x":1,"y":208},{"x":1,"y":210},{"x":1,"y":212},{"x":1,"y":214},{"x":1,"y":216},{"x":1,"y":218},{"x":1,"y":220},{"x":1,"y":222},{"x":1,"y":224},{"x":1,"y":226},{"x":1,"y":228},{"x":1,"y":230},{"x":1,"y":232},{"x":1,"y":234},{"x":1,"y":236},{"x":1,"y":238},{"x":1,"y":240},
      {"x":1,"y":243},{"x":1,"y":246},{"x":1,"y":248},{"x":1,"y":252},{"x":1,"y":255},{"x":1,"y":257},{"x":1,"y":261},{"x":1,"y":264},{"x":1,"y":266},{"x":1,"y":270},{"x":1,"y":273},{"x":1,"y":276},{"x":1,"y":279},{"x":1,"y":281},{"x":1,"y":285},{"x":1,"y":288},{"x":1,"y":292},{"x":1,"y":297},{"x":1,"y":300},{"x":1,"y":312},{"x":1,"y":320},{"x":1,"y":328},{"x":1,"y":336},{"x":1,"y":347},{"x":1,"y":353},{"x":1,"y":368},{"x":1,"y":373},{"x":1,"y":387},{"x":1,"y":390},{"x":1,"y":396}
    ],
    "curves": [
      {"line":"fit","x":0,"y":26.5},{"line":"fit","x":0.02,"y":28.6},{"line":"fit","x":0.04,"y":30.8},{"line":"fit","x":0.062,"y":32.7},{"line":"fit","x":0.08,"y":28},{"line":"fit","x":0.1,"y":19.5},{"line":"fit","x":0.117,"y":16.5},{"line":"fit","x":0.135,"y":22},{"line":"fit","x":0.15,"y":26.8},{"line":"fit","x":0.162,"y":28.4},{"line":"fit","x":0.18,"y":25.5},{"line":"fit","x":0.2,"y":18.5},{"line":"fit","x":0.217,"y":12.7},{"line":"fit","x":0.232,"y":7.8},{"line":"fit","x":0.25,"y":4.2},{"line":"fit","x":0.27,"y":2.6},{"line":"fit","x":0.29,"y":2.6},{"line":"fit","x":0.312,"y":4.3},{"line":"fit","x":0.327,"y":10},{"line":"fit","x":0.35,"y":25},{"line":"fit","x":0.365,"y":36},{"line":"fit","x":0.379,"y":48},{"line":"fit","x":0.4,"y":73},{"line":"fit","x":0.416,"y":98},{"line":"fit","x":0.431,"y":121},{"line":"fit","x":0.453,"y":157},{"line":"fit","x":0.475,"y":199},{"line":"fit","x":0.49,"y":221},{"line":"fit","x":0.504,"y":235},{"line":"fit","x":0.517,"y":240.5},{"line":"fit","x":0.53,"y":242.6},{"line":"fit","x":0.543,"y":241},{"line":"fit","x":0.556,"y":236.5},{"line":"fit","x":0.574,"y":222},{"line":"fit","x":0.593,"y":197},{"line":"fit","x":0.615,"y":171},{"line":"fit","x":0.637,"y":148},{"line":"fit","x":0.659,"y":133},{"line":"fit","x":0.689,"y":124},{"line":"fit","x":0.726,"y":118.7},{"line":"fit","x":0.763,"y":115},{"line":"fit","x":0.792,"y":108.7},{"line":"fit","x":0.814,"y":109.2},{"line":"fit","x":0.836,"y":106.2},{"line":"fit","x":0.858,"y":97.5},{"line":"fit","x":0.877,"y":87.5},{"line":"fit","x":0.888,"y":88.8},{"line":"fit","x":0.91,"y":105},{"line":"fit","x":0.932,"y":127.4},{"line":"fit","x":0.94,"y":131},{"line":"fit","x":0.951,"y":123.7},{"line":"fit","x":0.958,"y":122.4},{"line":"fit","x":0.976,"y":102.5},{"line":"fit","x":0.988,"y":90.5},{"line":"fit","x":1,"y":93},
      {"line":"upper","x":0,"y":64},{"line":"upper","x":0.018,"y":46.4},{"line":"upper","x":0.04,"y":45},{"line":"upper","x":0.062,"y":42.6},{"line":"upper","x":0.084,"y":37.7},{"line":"upper","x":0.1,"y":29},{"line":"upper","x":0.114,"y":24},{"line":"upper","x":0.135,"y":30.5},{"line":"upper","x":0.158,"y":34.7},{"line":"upper","x":0.184,"y":32.7},{"line":"upper","x":0.2,"y":27},{"line":"upper","x":0.217,"y":20.2},{"line":"upper","x":0.232,"y":13},{"line":"upper","x":0.246,"y":8},{"line":"upper","x":0.265,"y":6},{"line":"upper","x":0.29,"y":5.5},{"line":"upper","x":0.31,"y":7},{"line":"upper","x":0.327,"y":13},{"line":"upper","x":0.35,"y":30},{"line":"upper","x":0.379,"y":53},{"line":"upper","x":0.4,"y":79},{"line":"upper","x":0.416,"y":104},{"line":"upper","x":0.431,"y":128},{"line":"upper","x":0.453,"y":165},{"line":"upper","x":0.475,"y":208},{"line":"upper","x":0.49,"y":231},{"line":"upper","x":0.504,"y":245},{"line":"upper","x":0.517,"y":251},{"line":"upper","x":0.53,"y":252.5},{"line":"upper","x":0.543,"y":251},{"line":"upper","x":0.556,"y":246.5},{"line":"upper","x":0.574,"y":232},{"line":"upper","x":0.593,"y":207},{"line":"upper","x":0.615,"y":178},{"line":"upper","x":0.637,"y":155},{"line":"upper","x":0.659,"y":140},{"line":"upper","x":0.689,"y":130},{"line":"upper","x":0.726,"y":123.7},{"line":"upper","x":0.777,"y":117.4},{"line":"upper","x":0.814,"y":120},{"line":"upper","x":0.836,"y":115},{"line":"upper","x":0.858,"y":108},{"line":"upper","x":0.873,"y":102.5},{"line":"upper","x":0.884,"y":101.3},{"line":"upper","x":0.91,"y":130},{"line":"upper","x":0.94,"y":158.6},{"line":"upper","x":0.951,"y":156},{"line":"upper","x":0.976,"y":122.4},{"line":"upper","x":1,"y":99},
      {"line":"lower","x":0,"y":-9.7},{"line":"lower","x":0.018,"y":7.8},{"line":"lower","x":0.04,"y":15},{"line":"lower","x":0.062,"y":19},{"line":"lower","x":0.084,"y":16.5},{"line":"lower","x":0.1,"y":10},{"line":"lower","x":0.114,"y":6.5},{"line":"lower","x":0.135,"y":13},{"line":"lower","x":0.162,"y":20.7},{"line":"lower","x":0.187,"y":17.7},{"line":"lower","x":0.2,"y":13},{"line":"lower","x":0.217,"y":7.8},{"line":"lower","x":0.232,"y":3},{"line":"lower","x":0.25,"y":0.5},{"line":"lower","x":0.27,"y":-1},{"line":"lower","x":0.29,"y":-0.5},{"line":"lower","x":0.31,"y":1.5},{"line":"lower","x":0.327,"y":7},{"line":"lower","x":0.35,"y":20},{"line":"lower","x":0.379,"y":43},{"line":"lower","x":0.4,"y":67},{"line":"lower","x":0.416,"y":92},{"line":"lower","x":0.431,"y":114},{"line":"lower","x":0.453,"y":149},{"line":"lower","x":0.475,"y":190},{"line":"lower","x":0.49,"y":211},{"line":"lower","x":0.504,"y":225},{"line":"lower","x":0.517,"y":231},{"line":"lower","x":0.53,"y":232.5},{"line":"lower","x":0.543,"y":231},{"line":"lower","x":0.556,"y":226.5},{"line":"lower","x":0.574,"y":212},{"line":"lower","x":0.593,"y":187},{"line":"lower","x":0.615,"y":164.8},{"line":"lower","x":0.637,"y":141},{"line":"lower","x":0.659,"y":126},{"line":"lower","x":0.689,"y":118.7},{"line":"lower","x":0.726,"y":113.7},{"line":"lower","x":0.763,"y":106.2},{"line":"lower","x":0.792,"y":102.5},{"line":"lower","x":0.814,"y":98.7},{"line":"lower","x":0.836,"y":95},{"line":"lower","x":0.858,"y":85},{"line":"lower","x":0.884,"y":76.3},{"line":"lower","x":0.91,"y":90},{"line":"lower","x":0.94,"y":107.5},{"line":"lower","x":0.954,"y":100},{"line":"lower","x":0.98,"y":81.3},{"line":"lower","x":1,"y":88}
    ]
  },
  "encoding": {
    "x": {
      "field": "x",
      "type": "quantitative",
      "scale": {"domain": [-0.0288, 1.0288], "nice": false, "zero": false},
      "axis": {
        "title": "Share Two-Party Vote",
        "values": [0, 0.2, 0.4, 0.6, 0.8, 1],
        "format": ".1~f",
        "labelExpr": "replace(datum.label, '0.', '.')",
        "grid": false,
        "labelPadding": 5,
        "titlePadding": 3
      }
    }
  },
  "layer": [
    {
      "data": {"values": [{"x": 0.5}]},
      "mark": {"type": "rule", "color": "#C10534", "strokeWidth": 2},
      "encoding": {}
    },
    {
      "data": {"name": "curves"},
      "mark": {"type": "line", "strokeWidth": 2, "interpolate": "monotone"},
      "encoding": {
        "y": {
          "field": "y",
          "type": "quantitative",
          "scale": {"domain": [-18.2, 409.6], "nice": false, "zero": false},
          "axis": {
            "title": "Total Contribution (Thousands of Dollars)",
            "values": [0, 100, 200, 300, 400],
            "grid": true,
            "gridColor": "#E6EEF0",
            "gridWidth": 1.5,
            "labelAngle": 270,
            "labelAlign": "center",
            "labelBaseline": "bottom",
            "labelPadding": 6,
            "titlePadding": 3
          }
        },
        "color": {
          "field": "line",
          "type": "nominal",
          "scale": {"domain": ["fit", "upper", "lower"], "range": ["#1A476F", "#55752F", "#90353B"]},
          "legend": null
        },
        "strokeDash": {
          "field": "line",
          "type": "nominal",
          "scale": {"domain": ["fit", "upper", "lower"], "range": [[1, 0], [10, 5], [10, 5]]},
          "legend": null
        }
      }
    },
    {
      "data": {"name": "obs"},
      "mark": {"type": "point", "shape": "circle", "filled": true, "size": 12, "color": "#E8890C", "opacity": 1},
      "encoding": {
        "y": {
          "field": "y",
          "type": "quantitative",
          "scale": {"domain": [-18.2, 409.6], "nice": false, "zero": false},
          "axis": {
            "title": "Total Contribution (Thousands of Dollars)",
            "values": [0, 100, 200, 300, 400],
            "grid": true,
            "gridColor": "#E6EEF0",
            "gridWidth": 1.5,
            "labelAngle": 270,
            "labelAlign": "center",
            "labelBaseline": "bottom",
            "labelPadding": 6,
            "titlePadding": 3
          }
        }
      }
    }
  ]
}
